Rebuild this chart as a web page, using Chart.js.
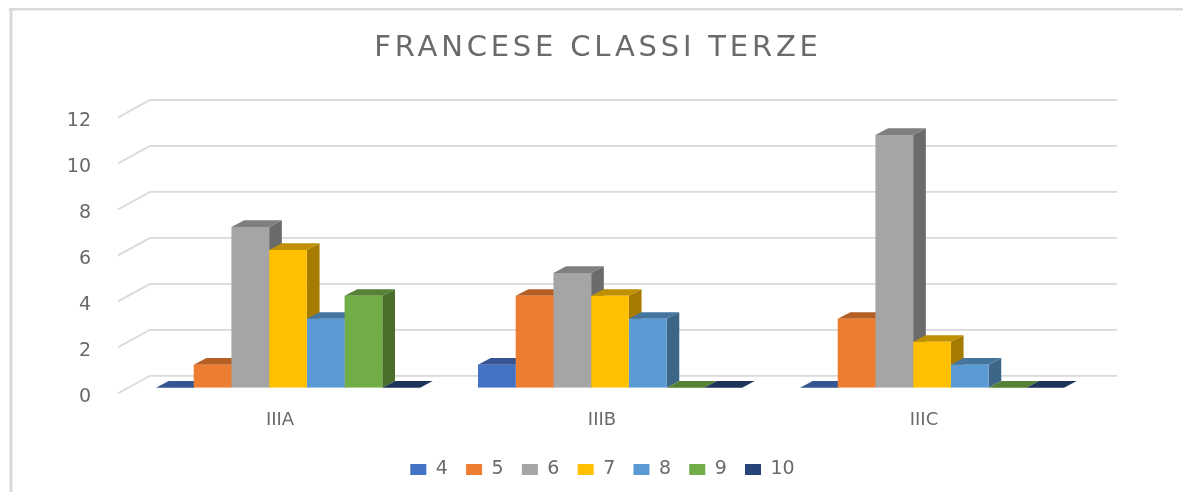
<!DOCTYPE html>
<html><head><meta charset="utf-8">
<style>html,body{margin:0;padding:0;background:#fff;overflow:hidden}
#w{position:relative;width:1183px;height:492px;overflow:hidden}
#c{position:absolute;left:0;top:0}</style>
<script src="https://cdn.jsdelivr.net/npm/chart.js@4"></script>
</head><body><div id="w"><canvas id="c" width="1183" height="492"></canvas></div>
<script>
const categories = ['IIIA','IIIB','IIIC'];
const yTicks = [0,2,4,6,8,10,12];
const s4  = [0,1,0];
const s5  = [1,4,3];
const s6  = [7,5,11];
const s7  = [6,4,2];
const s8  = [3,3,1];
const s9  = [4,0,0];
const s10 = [0,0,0];
const names = ['4','5','6','7','8','9','10'];
const seriesValues = [s4,s5,s6,s7,s8,s9,s10];
const frontColors = ['#4472c4','#ed7d31','#a5a5a5','#ffc000','#5b9bd5','#70ad47','#264478'];
const topColors   = ['#355693','#b65f24','#7f7f7f','#bf9000','#44759f','#558235','#1d3359'];
const sideColors  = ['#2f4d84','#a2551f','#6b6b6b','#a67c00','#3c6688','#4a6f2d','#1a2e50'];
const DX = 12.7, DY = 6.7;
const GRID = '#d9d9d9', TXT = '#6a6a6a';

const backdrop = {
  id:'backdrop',
  beforeInit(chart){ chart.ctx.letterSpacing='1.5px'; },
  afterLayout(chart){
    const lg=chart.legend;
    lg.left-=7.5; lg.right-=7.5; lg.top-=3; lg.bottom-=3;
    const t=chart.titleBlock;
    if(!t._wrapped){
      t._wrapped=true;
      const d=t.draw;
      t.draw=function(){ const c=this.ctx; c.save(); c.letterSpacing='3.8px'; d.call(this); c.restore(); };
    }
  },
  beforeDatasetsDraw(chart){
    const {ctx, scales:{y}, chartArea:a} = chart;
    ctx.save();
    ctx.fillStyle = GRID;
    ctx.fillRect(9,8,1174,2.5);
    ctx.fillRect(9.5,8,3,484);
    ctx.strokeStyle = GRID; ctx.lineWidth = 1.8; ctx.lineCap='butt';
    yTicks.forEach(t=>{
      const py = y.getPixelForValue(t);
      ctx.beginPath();
      ctx.moveTo(a.left-9, py+5.5);
      ctx.lineTo(a.left+23, py-12);
      ctx.lineTo(a.right+24, py-12);
      ctx.stroke();
    });
    chart.data.datasets.forEach((ds,i)=>{
      chart.getDatasetMeta(i).data.forEach(b=>{
        const l=b.x-b.width/2, r=b.x+b.width/2, t=b.y, base=b.base;
        ctx.fillStyle = sideColors[i];
        if(base>t){
          ctx.beginPath();ctx.moveTo(r,t);ctx.lineTo(r+DX,t-DY);ctx.lineTo(r+DX,base-DY);ctx.lineTo(r,base);ctx.closePath();ctx.fill();
        }
        ctx.fillStyle = topColors[i];
        ctx.beginPath();ctx.moveTo(l,t);ctx.lineTo(l+DX,t-DY);ctx.lineTo(r+DX,t-DY);ctx.lineTo(r,t);ctx.closePath();ctx.fill();
      });
    });
    ctx.restore();
  }
};

new Chart(document.getElementById('c'),{
  type:'bar',
  data:{labels:categories,datasets:names.map((n,i)=>({
    label:n,data:seriesValues[i],backgroundColor:frontColors[i],
    borderWidth:0,categoryPercentage:0.82,barPercentage:1,yAxisID:'y'
  }))},
  options:{
    responsive:false,animation:false,
    layout:{padding:{left:13,right:0,top:0,bottom:0}},
    plugins:{
      tooltip:{enabled:false},
      title:{display:true,text:'FRANCESE CLASSI TERZE',color:TXT,
        font:{family:'"DejaVu Sans"',size:29,weight:'normal'},padding:{top:31,bottom:46.2}},
      legend:{position:'bottom',fullSize:false,
        labels:{boxWidth:16,boxHeight:11,padding:18.2,color:TXT,
          font:{family:'"DejaVu Sans"',size:19}}}
    },
    scales:{
      x:{grid:{display:false},border:{display:false},
        ticks:{color:TXT,font:{family:'"DejaVu Sans"',size:18},padding:14,labelOffset:-8,maxRotation:0},
        afterFit(s){s.height=57;}},
      y:{min:0,max:12,grid:{display:false},border:{display:false},
        afterBuildTicks(s){s.ticks=yTicks.map(v=>({value:v}));},
        ticks:{color:TXT,font:{family:'"DejaVu Sans"',size:19},padding:28,labelOffset:9.5},
        afterFit(s){s.width=114;}},
      r:{position:'right',min:0,max:12,grid:{display:false},border:{display:false},
        ticks:{display:false},afterFit(s){s.width=90;}}
    }
  },
  plugins:[backdrop]
});
</script></body></html>
